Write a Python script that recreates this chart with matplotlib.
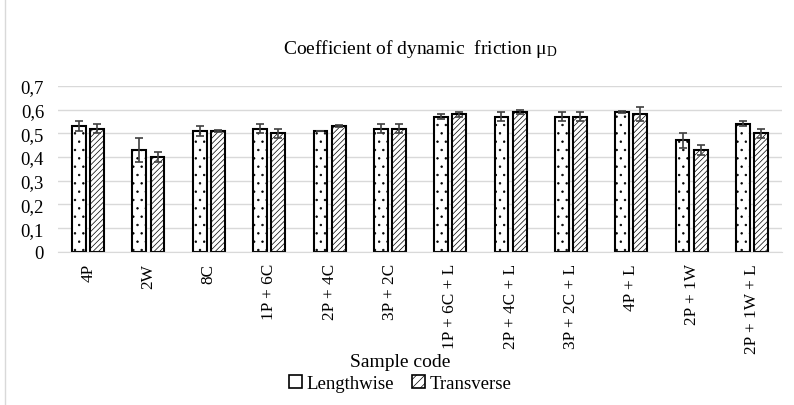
import matplotlib.pyplot as plt
import numpy as np
from matplotlib.ticker import FuncFormatter
from matplotlib.patches import Rectangle, Patch

plt.rcParams['font.family'] = ['Liberation Serif', 'DejaVu Serif']
plt.rcParams['mathtext.fontset'] = 'custom'
plt.rcParams['mathtext.rm'] = 'Liberation Serif'
plt.rcParams['mathtext.it'] = 'Liberation Serif:italic'
plt.rcParams['hatch.linewidth'] = 0.5

samples = ['4P', '2W', '8C', '1P + 6C', '2P + 4C', '3P + 2C', '1P + 6C + L',
           '2P + 4C + L', '3P + 2C + L', '4P + L', '2P + 1W', '2P + 1W + L']
lengthwise = [0.53, 0.43, 0.51, 0.52, 0.51, 0.52, 0.57, 0.57, 0.57, 0.59, 0.47, 0.54]
lengthwise_err = [0.02, 0.05, 0.02, 0.02, 0.0, 0.02, 0.01, 0.02, 0.02, 0.005, 0.03, 0.01]
transverse = [0.52, 0.40, 0.51, 0.50, 0.53, 0.52, 0.58, 0.59, 0.57, 0.58, 0.43, 0.50]
transverse_err = [0.02, 0.02, 0.005, 0.02, 0.005, 0.02, 0.01, 0.01, 0.02, 0.03, 0.02, 0.02]

serif = ['Liberation Serif', 'DejaVu Serif']

fig = plt.figure(figsize=(7.94, 4.06), dpi=100)
ax = fig.add_axes([0.073, 0.377, 0.912, 0.409])

x = np.arange(len(samples))
w = 0.23
err_kw = dict(ecolor='#404040', elinewidth=1.2, capsize=3, capthick=1.2)
ax.bar(x - 0.15, lengthwise, w, yerr=lengthwise_err, color='white', edgecolor='black',
       linewidth=1.5, hatch='..', error_kw=err_kw, zorder=2)
ax.bar(x + 0.15, transverse, w, yerr=transverse_err, color='white', edgecolor='black',
       linewidth=1.5, hatch='//////', error_kw=err_kw, zorder=2)

ax.set_xlim(-0.5, len(samples) - 0.5)
ax.set_ylim(0, 0.7)
ax.set_yticks(np.arange(0, 0.71, 0.1))
ax.yaxis.set_major_formatter(FuncFormatter(lambda v, p: '0' if v == 0 else f'{v:.1f}'.replace('.', ',')))
ax.set_xticks(x)
ax.set_xticklabels(samples, rotation=90, fontsize=12.4, family=serif)
ax.tick_params(axis='y', labelsize=13.5, length=0, pad=10)
ax.tick_params(axis='x', length=0, pad=8)
ax.grid(axis='y', color='#d9d9d9', linewidth=1, zorder=0)
for s in ['top', 'right', 'left']:
    ax.spines[s].set_visible(False)
ax.spines['bottom'].set_color('#d9d9d9')

ax.set_title(r'Coefficient of dynamic  friction $\mathregular{\mu_D}$', fontsize=14, pad=24,
             family=serif)
fig.text(0.504, 0.108, 'Sample code', ha='center', va='center', fontsize=14, family=serif)
handles = [Patch(facecolor='white', edgecolor='black', linewidth=1.2, label='Lengthwise'),
           Patch(facecolor='white', edgecolor='black', linewidth=1.2, hatch='////', label='Transverse')]
fig.legend(handles=handles, loc='center', bbox_to_anchor=(0.504, 0.052), ncol=2, frameon=False,
           prop={'family': serif, 'size': 13.5},
           handlelength=0.7, handleheight=0.7, handletextpad=0.2, columnspacing=1.0)

fig.patches.append(Rectangle((0.006, -0.01), 1.5, 1.5, transform=fig.transFigure,
                             fill=False, edgecolor='#d9d9d9', linewidth=1))

fig.savefig('out.png', dpi=100)
